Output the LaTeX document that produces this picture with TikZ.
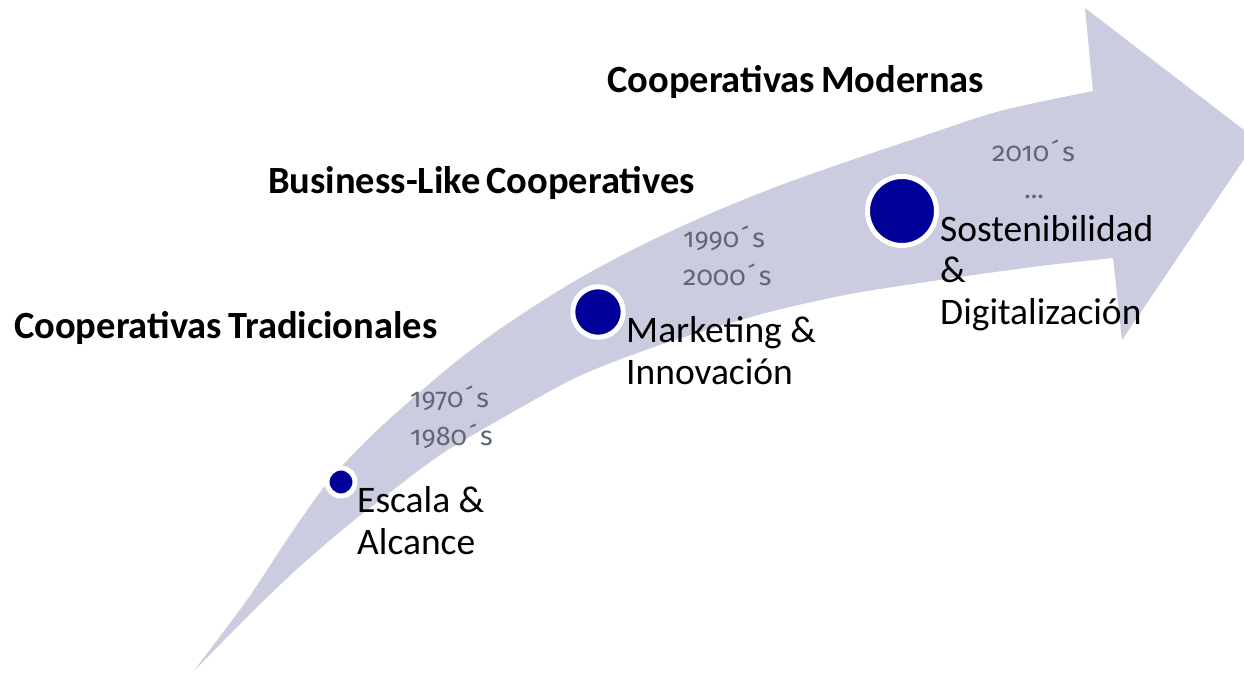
\documentclass[tikz,border=0pt]{standalone}
\usepackage{fontspec}
\setmainfont{Carlito}
\newfontfamily\titlefont[WordSpace=0.7]{Carlito}
\newfontfamily\yearfont[Numbers=OldStyle]{Fira Sans}
\definecolor{arrowgray}{RGB}{203,204,223}
\definecolor{dotblue}{RGB}{0,0,153}
\definecolor{yeargray}{RGB}{95,104,112}
\newcommand{\yrs}[1]{#1\kern2pt´\kern3pt s}
\tikzset{
  title/.style={anchor=base west, inner sep=0pt, font=\titlefont\bfseries\fontsize{38.5}{42}\selectfont},
  label/.style={anchor=base west, inner sep=0pt, align=left, font=\fontsize{37.5}{41.5}\selectfont},
  years/.style={anchor=base west, inner sep=0pt, align=left, text=yeargray, font=\yearfont\fontsize{27}{38}\selectfont},
  dot/.style={circle, fill=dotblue, draw=white, line width=5pt, inner sep=0pt}
}
\begin{document}
\begin{tikzpicture}[x=1pt,y=-1pt]
\useasboundingbox (0,0) rectangle (1244,673);
\clip (0,0) rectangle (1244,673);
% arrow
\fill[arrowgray] (193,672)
  -- plot[smooth, tension=0.5] coordinates {(193,672) (247,600) (290,535) (328,482) (367,440) (413,398) (458,360) (507,324) (573,282) (640,246) (707,215) (773,188) (840,164) (923,136) (1000,111) (1093,91)}
  -- (1085,8) -- (1257,140) -- (1122,340) -- (1113,258)
  -- plot[smooth, tension=0.5] coordinates {(1113,258) (1040,266) (960,277) (880,289) (840,296) (773,311) (707,330) (640,352) (573,379) (490,425) (440,455) (397,487) (347,526) (297,569) (247,617) (193,672)}
  -- cycle;
% titles
\node[title] (t3) at (607,92) {Cooperativas Modernas};
\node[title] (t2) at (268,193) {Business-Like Cooperatives};
\node[title] (t1) at (14,338) {Cooperativas Tradicionales};
% dots
\node[dot, minimum size=28pt] (d1) at (341,482) {};
\node[dot, minimum size=50.5pt] (d2) at (598,312) {};
\node[dot, minimum size=69pt] (d3) at (902,211) {};
% labels (base anchor = last line)
\node[label] (l1) at (357,554) {Escala \&\\Alcance};
\node[label] (l2) at (626,384) {Marketing \&\\Innovación};
\node[label] (l3) at (940,324) {Sostenibilidad\\\&\\Digitalización};
% years
\node[years] (y1) at (410,445) {\yrs{1970}\\\yrs{1980}};
\node[years] (y2) at (683,285) {\yrs{1990}\\\yrs{2000}};
\node[years] (y3) at (992,161) {\yrs{2010}};
\node[years, anchor=base] (y4) at (1034,198) {...};
\end{tikzpicture}
\end{document}
